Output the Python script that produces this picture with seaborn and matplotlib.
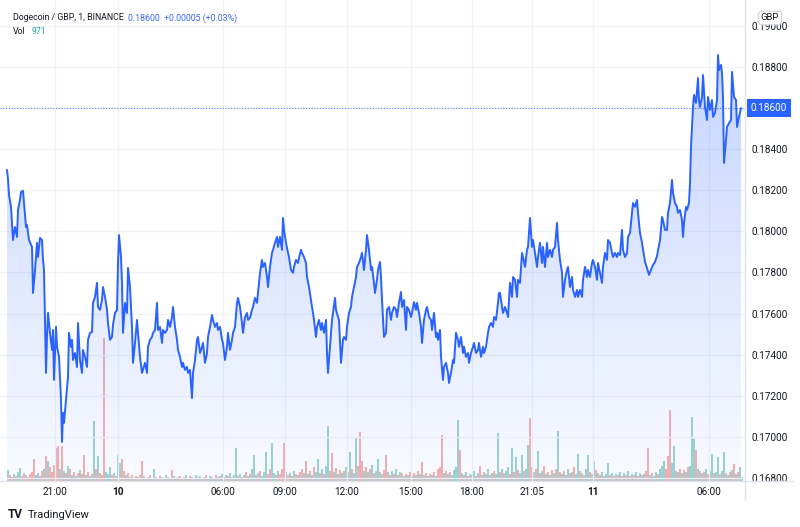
import numpy as np
import pandas as pd
import matplotlib
matplotlib.use("Agg")
import matplotlib.pyplot as plt
import seaborn as sns
from matplotlib.colors import LinearSegmentedColormap
from matplotlib.lines import Line2D
from matplotlib.transforms import blended_transform_factory

# ---------------- data ----------------
bar_idx = [7, 8, 9, 11, 13, 15, 17, 18, 20, 21, 23, 24, 26, 27, 29, 32, 33, 35, 37, 38, 40, 42, 43, 44,
           46, 47, 48, 50, 52, 53, 54, 56, 57, 59, 61, 62, 63, 64, 66, 68, 69, 71, 72, 73, 75, 77, 78,
           80, 82, 83, 85, 87, 88, 90, 92, 93, 95, 97, 98, 100, 102, 103, 105, 107, 108, 110, 112, 113,
           115, 117, 118, 119, 121, 122, 123,
           125, 127, 128, 130, 132, 133, 135, 137, 138, 140, 142, 143, 145, 147, 148, 150, 152, 153, 155,
           157, 158, 160, 162, 163, 165, 167, 168, 170, 172, 173, 175, 177, 178, 180, 182, 183, 185, 187,
           188, 190, 192, 193, 195, 197, 198, 200, 202, 203, 205, 207, 208, 210, 212, 213, 215, 217, 218,
           220, 222, 223, 225, 227, 228, 230, 232, 233, 235, 237, 238, 240, 242, 243, 245, 247, 248,
           250, 252, 253, 255, 257, 258, 260, 262, 263, 265, 267, 268, 270, 272, 273, 275, 277, 278, 280,
           282, 283, 284, 286, 287, 289, 291, 293, 294, 296, 298, 299, 301, 302, 304, 306, 307, 309, 311,
           312, 314, 316, 317, 319, 321, 322, 324, 326, 327, 328, 330, 332, 333, 335, 336, 338, 339, 341,
           343, 344, 346, 347, 349, 351, 352, 354, 356, 357, 359, 361, 362, 364, 366, 367, 369, 371, 372, 374,
           375, 377, 378, 380, 381, 382, 384, 386, 387, 389, 391, 392, 394, 396, 397, 399, 401, 402, 404,
           406, 407, 409, 411, 412, 414, 416, 417, 419, 421, 422, 424, 426, 427, 429, 431, 432, 434, 436,
           437, 438, 440, 441, 443, 444, 446, 448, 449, 451, 453, 454, 456, 458, 459, 461, 463, 464, 466,
           468, 469, 471, 473, 474, 476, 478, 479, 481, 483, 484, 486, 488, 489, 491, 493, 494, 496, 498, 499,
           500, 502, 503, 505, 507, 508, 510, 512, 513, 515, 517, 518, 520, 522, 523, 525, 527, 528, 530,
           532, 533, 535, 537, 538, 540, 542, 543, 545, 547, 548, 550, 552, 553, 555, 557, 558, 560, 562,
           563, 565, 567, 568, 570, 572, 573, 575, 577, 578, 580, 582, 583, 585, 587, 588, 590, 592, 593,
           595, 597, 598, 600, 602, 603, 605, 607, 608, 610, 612, 613, 615, 617, 618, 620, 622, 623, 625,
           627, 628,
           630, 632, 633, 635, 637, 638, 640, 642, 645, 647, 649, 651, 653, 655, 657, 660, 662, 663, 665,
           667, 668, 670, 672, 673, 675, 677, 678, 680, 682, 683, 684, 686, 687, 689, 690, 691, 692, 693,
           694, 696, 697, 698, 699, 700, 702, 703, 705, 707, 708, 710, 712, 713, 715, 717, 718, 719, 721,
           722, 723, 724, 726, 727, 729, 731, 732, 734, 736, 737, 739, 741]

close = [0.18299, 0.18255, 0.18177, 0.18119, 0.17958, 0.18021, 0.17973, 0.18104, 0.18153, 0.18192, 0.18197,
         0.18138, 0.18021, 0.18031, 0.17958, 0.17924, 0.17700, 0.17812, 0.17944, 0.17875, 0.17968, 0.17958,
         0.17861, 0.17812, 0.17311, 0.17486, 0.17603, 0.17506, 0.17423, 0.17520, 0.17277, 0.17535, 0.17438,
         0.17389, 0.17180, 0.16975, 0.17116, 0.17068, 0.17180, 0.17292, 0.17506, 0.17438, 0.17472, 0.17374,
         0.17408, 0.17340, 0.17554, 0.17374, 0.17311, 0.17423, 0.17389, 0.17340, 0.17472, 0.17506, 0.17510,
         0.17652, 0.17681, 0.17749, 0.17632, 0.17618, 0.17666, 0.17729, 0.17681, 0.17618, 0.17554, 0.17472,
         0.17486, 0.17545, 0.17603, 0.17618, 0.17846, 0.17982, 0.17875, 0.17749, 0.17506,
         0.17652, 0.17603, 0.17822, 0.17729, 0.17535, 0.17360, 0.17457, 0.17569, 0.17506, 0.17389, 0.17311,
         0.17326, 0.17360, 0.17311, 0.17438, 0.17472, 0.17486, 0.17506, 0.17520, 0.17652, 0.17520, 0.17535,
         0.17457, 0.17520, 0.17506, 0.17520, 0.17569, 0.17535, 0.17583, 0.17632, 0.17535, 0.17472, 0.17423,
         0.17389, 0.17340, 0.17360, 0.17326, 0.17340, 0.17311, 0.17326, 0.17189, 0.17311, 0.17374, 0.17472,
         0.17486, 0.17408, 0.17438, 0.17457, 0.17360, 0.17408, 0.17486, 0.17535, 0.17593, 0.17569, 0.17535,
         0.17554, 0.17520, 0.17535, 0.17472, 0.17457, 0.17374, 0.17438, 0.17506, 0.17423, 0.17472, 0.17506,
         0.17535, 0.17652, 0.17676, 0.17632, 0.17554, 0.17506, 0.17583, 0.17603, 0.17569,
         0.17579, 0.17618, 0.17632, 0.17676, 0.17652, 0.17700, 0.17798, 0.17861, 0.17827, 0.17846, 0.17778,
         0.17729, 0.17827, 0.17895, 0.17910, 0.17944, 0.17973, 0.17924, 0.17973, 0.17910, 0.18065, 0.18007,
         0.17944, 0.17919, 0.17875, 0.17812, 0.17798, 0.17827, 0.17861, 0.17846, 0.17871, 0.17910, 0.17895,
         0.17875, 0.17846, 0.17778, 0.17729, 0.17666, 0.17632, 0.17569, 0.17486, 0.17535, 0.17569, 0.17520,
         0.17554, 0.17506, 0.17569, 0.17408, 0.17311, 0.17438, 0.17569, 0.17603, 0.17676, 0.17618, 0.17583,
         0.17569, 0.17360, 0.17472, 0.17486, 0.17472, 0.17535, 0.17603, 0.17632, 0.17681, 0.17729, 0.17778,
         0.17827, 0.17846, 0.17875, 0.17895, 0.17812, 0.17910, 0.17982, 0.17910, 0.17812, 0.17827, 0.17749,
         0.17700, 0.17764, 0.17812, 0.17851, 0.17778, 0.17666, 0.17486, 0.17506, 0.17618, 0.17632, 0.17569,
         0.17603, 0.17632, 0.17618, 0.17583, 0.17652, 0.17705, 0.17632, 0.17666, 0.17520, 0.17632, 0.17618,
         0.17583, 0.17603, 0.17656, 0.17618, 0.17652, 0.17603, 0.17535, 0.17457, 0.17569, 0.17618, 0.17632,
         0.17583, 0.17569, 0.17520, 0.17603, 0.17486, 0.17506, 0.17472, 0.17520, 0.17389, 0.17277, 0.17340,
         0.17360, 0.17311, 0.17262, 0.17311, 0.17374, 0.17360, 0.17506, 0.17472, 0.17438, 0.17486, 0.17408,
         0.17438, 0.17389, 0.17408, 0.17360, 0.17408, 0.17438, 0.17457, 0.17408, 0.17423, 0.17457, 0.17389,
         0.17438, 0.17408, 0.17438, 0.17506, 0.17535, 0.17554, 0.17535, 0.17583, 0.17569, 0.17652, 0.17700,
         0.17700, 0.17632, 0.17603, 0.17632, 0.17603, 0.17583, 0.17749, 0.17681, 0.17778, 0.17764, 0.17681,
         0.17764, 0.17749, 0.17895, 0.17875, 0.17827, 0.17910, 0.17924, 0.18065, 0.17924, 0.17958, 0.17895,
         0.17827, 0.17875, 0.17944, 0.17846, 0.17924, 0.17827, 0.17944, 0.17875, 0.17910, 0.17875, 0.17910,
         0.17924, 0.18041, 0.17958, 0.17861, 0.17798, 0.17681, 0.17764, 0.17812, 0.17827, 0.17729, 0.17778,
         0.17715, 0.17681, 0.17715, 0.17681, 0.17715, 0.17681, 0.17764, 0.17827, 0.17778, 0.17812, 0.17778,
         0.17846, 0.17861, 0.17827, 0.17764, 0.17846, 0.17798, 0.17749, 0.17827, 0.17895, 0.17861, 0.17958,
         0.17944, 0.17895, 0.17875, 0.17895, 0.17875, 0.17895, 0.17885, 0.18007, 0.17910, 0.17875, 0.17895,
         0.17973,
         0.17992, 0.18090, 0.18138, 0.18119, 0.18153, 0.18090, 0.17992, 0.17944, 0.17851, 0.17822, 0.17788,
         0.17812, 0.17837, 0.17851, 0.17880, 0.17958, 0.18070, 0.18055, 0.18007, 0.18007, 0.18090, 0.18138,
         0.18250, 0.18187, 0.18138, 0.18119, 0.18090, 0.18104, 0.18055, 0.17973, 0.18041, 0.18119, 0.18104,
         0.18138, 0.18236, 0.18411, 0.18508, 0.18605, 0.18664, 0.18625, 0.18688, 0.18746, 0.18639, 0.18605,
         0.18654, 0.18761, 0.18605, 0.18542, 0.18654, 0.18591, 0.18639, 0.18557, 0.18576, 0.18639, 0.18858,
         0.18785, 0.18810, 0.18771, 0.18654, 0.18333, 0.18445, 0.18508, 0.18527, 0.18542, 0.18776, 0.18654,
         0.18639, 0.18508, 0.18557, 0.18600]

vol_idx = list(range(8, 743, 2))
volume = [11, 6, 4, 7, 5, 9, 13, 5, 8, 6,
          4, 7, 9, 22, 6, 8, 5, 10, 12, 25,
          20, 14, 9, 16, 33, 35, 12, 35, 10, 8,
          15, 12, 6, 9, 5, 8, 11, 7, 26, 6,
          9, 5, 7, 60, 12, 25, 8, 6, 143, 9,
          7, 14, 6, 8, 5, 26, 18, 22, 10, 6,
          8, 4, 6, 3, 5, 4, 6, 20, 5, 3,
          4, 6, 3, 12, 4, 3, 5, 4, 3, 6,
          4, 3, 11, 5, 3, 4, 5, 3, 4, 6,
          3, 5, 4, 3, 6, 4, 5, 3, 4, 6,
          3, 5, 4, 3, 6, 4, 5, 7, 4, 6,
          5, 8, 4, 6, 33, 5, 7, 4, 6, 9,
          5, 7, 12, 26, 6, 8, 10, 5, 9, 29,
          7, 12, 38, 8, 6, 10, 7, 12, 38, 9,
          6, 8, 5, 10, 7, 6, 9, 12, 8, 20,
          7, 10, 6, 14, 9, 22, 8, 12, 7, 15,
          55, 10, 28, 9, 13, 7, 11, 8, 10, 14,
          9, 29, 12, 8, 43, 15, 49, 20, 10, 14,
          9, 12, 16, 8, 10, 22, 9, 7, 11, 26,
          9, 6, 10, 7, 12, 6, 9, 8, 5, 7,
          6, 9, 5, 8, 6, 10, 7, 19, 6, 8,
          5, 7, 6, 9, 5, 12, 14, 46, 8, 10,
          7, 9, 6, 11, 14, 61, 31, 8, 6, 9,
          5, 7, 6, 10, 5, 8, 15, 6, 9, 7,
          12, 6, 8, 10, 7, 48, 9, 12, 8, 10,
          14, 7, 33, 9, 24, 11, 8, 26, 10, 12,
          36, 63, 14, 9, 12, 30, 8, 10, 15, 7,
          9, 6, 11, 8, 12, 50, 9, 7, 10, 6,
          12, 8, 9, 14, 7, 27, 10, 8, 6, 12,
          26, 9, 7, 20, 11, 8, 6, 9, 5, 7,
          18, 6, 8, 5, 7, 6, 9, 5, 8, 6,
          10, 5, 7, 6, 9, 5, 8, 6, 7, 10,
          33, 6, 8, 5, 9, 7, 12, 15, 20, 12,
          25, 71, 18, 35, 10, 9, 12, 8, 11, 9,
          14, 15, 64, 42, 31, 12, 10, 8, 9, 12,
          7, 10, 27, 8, 9, 24, 7, 10, 29, 8,
          6, 9, 11, 17, 7, 9, 14, 4]
vol_dir = ("udduduuddu" "dddduuddud" "udddddudud" "ududududdu" "dudududddu"
           "uududuuddu" "dudududdud" "uduudududu" "dududududu" "ddudududud"
           "uududududu" "duduududud" "uduududuuu" "dduududddu" "dudududdud"
           "ududuududu" "uddudududu" "duduudddud" "ududuududd" "ududududud"
           "ududududud" "udududddud" "uduuuududu" "dududududu" "ududuududu"
           "udududuudu" "uddudududu" "dududududu" "ududuududu" "uduudududu"
           "ududududud" "ududududud" "duduuduuud" "dduudududu" "duuudududu"
           "duuduuduud" "udududuu")

price_ticks = [0.168, 0.170, 0.172, 0.174, 0.176, 0.178, 0.180, 0.182, 0.184, 0.186, 0.188, 0.190]
time_tick_pos = [55, 118, 223, 285, 347, 411, 472, 532, 593, 709]
time_tick_lbl = ["21:00", "10", "06:00", "09:00", "12:00", "15:00", "18:00", "21:05", "11", "06:00"]
day_labels = {"10", "11"}

symbol_title = "Dogecoin / GBP, 1, BINANCE"
last_price = 0.18600
price_change = 0.00005
price_change_pct = 0.03
last_volume = 971
currency = "GBP"

# ---------------- style ----------------
sns.set_theme(style="white")
plt.rcParams['font.family'] = ['Roboto', 'DejaVu Sans']

BLUE = '#2962ff'
TEAL = '#26a69a'
TXT = '#131722'
GRID = '#f0f3fa'
SEP = '#e0e3eb'

W, H = 800, 527
fig = plt.figure(figsize=(W / 100, H / 100), dpi=100)
fig.patch.set_facecolor('white')
rect = [0, 46 / H, 745 / W, 481 / H]
ax_vol = fig.add_axes(rect)
ax = fig.add_axes(rect, sharex=ax_vol)
ax.patch.set_visible(False)

ybot, ytop = 0.16785, 0.19126
xmin, xmax = 0, 745

# volume bars
df_vol = pd.DataFrame({'idx': vol_idx, 'volume': volume, 'dir': list(vol_dir)})
colors = [(0.149, 0.651, 0.604, 0.45) if d == 'u' else (0.937, 0.325, 0.314, 0.45) for d in df_vol['dir']]
ax_vol.bar(df_vol['idx'], df_vol['volume'], width=1.1, color=colors, linewidth=0)
ax_vol.set_ylim(0, max(volume) * 3.36)
ax_vol.set_yticks([])
ax_vol.tick_params(labelbottom=False, length=0)
for s in ax_vol.spines.values():
    s.set_visible(False)

# price area
df = pd.DataFrame({'idx': bar_idx, 'close': close})
fill = ax.fill_between(df['idx'], df['close'], ybot, facecolor='none', edgecolor='none')
cmap = LinearSegmentedColormap.from_list('grad', [(41 / 255, 98 / 255, 1, 0.03), (41 / 255, 98 / 255, 1, 0.30)])
im = ax.imshow(np.linspace(0, 1, 256).reshape(-1, 1), extent=[bar_idx[0], bar_idx[-1], ybot, ytop],
               origin='lower', aspect='auto', cmap=cmap, zorder=1, interpolation='bilinear')
im.set_clip_path(fill.get_paths()[0], transform=ax.transData)

sns.lineplot(data=df, x='idx', y='close', ax=ax, color=BLUE, linewidth=1.4,
             estimator=None, sort=False, zorder=3)
ax.axhline(last_price, color=BLUE, lw=0.8, ls=(0, (1, 1.5)), alpha=0.8, zorder=2)

ax.set_xlim(xmin, xmax)
ax.set_ylim(ybot, ytop)
ax.set_xlabel('')
ax.set_ylabel('')
ax.grid(True, color=GRID, lw=0.9)
ax.set_axisbelow(True)
for s in ax.spines.values():
    s.set_visible(False)

ax.yaxis.tick_right()
ax.set_yticks(price_ticks)
ax.set_yticklabels([f"{v:.5f}" for v in price_ticks])
ax.tick_params(axis='y', length=0, pad=5, labelsize=7.2, labelcolor=TXT)
ax.set_xticks(time_tick_pos)
ax.set_xticklabels(time_tick_lbl)
ax.tick_params(axis='x', length=0, pad=4, labelsize=7.2, labelcolor=TXT)
for lbl in ax.get_xticklabels():
    if lbl.get_text() in day_labels:
        lbl.set_fontweight('bold')

# separators
fig.add_artist(Line2D([745 / W, 745 / W], [1 - 500 / H, 1], transform=fig.transFigure, color=SEP, lw=1))
fig.add_artist(Line2D([0, 793 / W], [1 - 481 / H, 1 - 481 / H], transform=fig.transFigure, color=SEP, lw=1))

# last price label
tr = blended_transform_factory(ax.transAxes, ax.transData)
ax.text(1.008, last_price, f"{last_price:.5f}", transform=tr, ha='left', va='center', color='white',
        fontsize=7.2, bbox=dict(boxstyle='square,pad=0.4', fc=BLUE, ec='none'), zorder=10, clip_on=False)

# currency box
fig.text(770 / W, 1 - 18 / H, currency, ha='center', va='center', fontsize=6.8, color=TXT,
         bbox=dict(boxstyle='round,pad=0.25,rounding_size=0.4', fc='white', ec='#d1d4dc', lw=0.8))

# header
fig.text(13 / W, 1 - 18 / H, symbol_title, ha='left', va='center', fontsize=6.3, color=TXT)
fig.text(128 / W, 1 - 18 / H,
         f"{last_price:.5f}  +{price_change:.5f} (+{price_change_pct:.2f}%)",
         ha='left', va='center', fontsize=6.3, color='#3a66f5')
fig.text(13 / W, 1 - 31 / H, "Vol", ha='left', va='center', fontsize=6.3, color=TXT)
fig.text(32 / W, 1 - 31 / H, f"{last_volume}", ha='left', va='center', fontsize=6.3, color=TEAL)

# logo
fig.text(8 / W, 1 - 515 / H, "TV", ha='left', va='center', fontsize=8.5, fontweight='bold', color=TXT)
fig.text(28 / W, 1 - 515 / H, "TradingView", ha='left', va='center', fontsize=8, color=TXT)

fig.savefig("out.png", dpi=100, facecolor='white')
